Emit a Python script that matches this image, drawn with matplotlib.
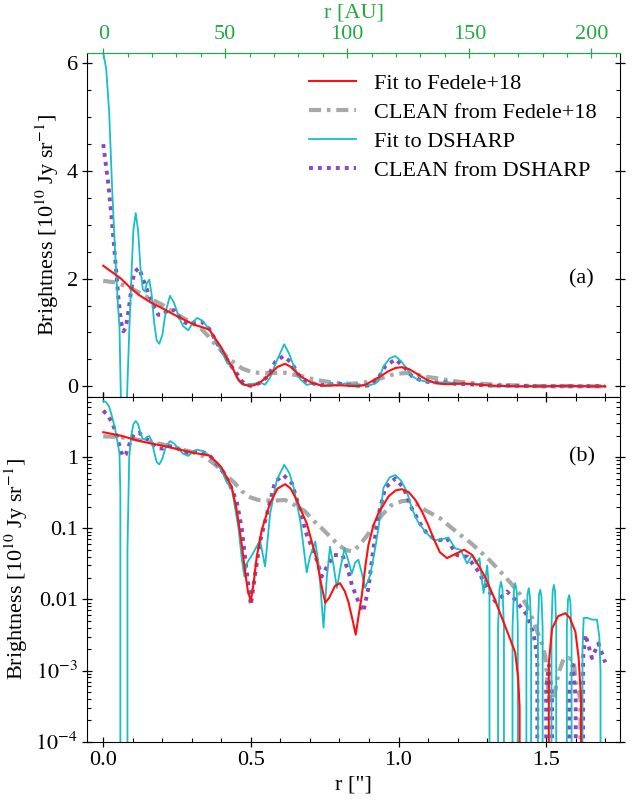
import numpy as np
import matplotlib
matplotlib.use("Agg")
import matplotlib.pyplot as plt
from matplotlib.ticker import MultipleLocator, FixedLocator, FuncFormatter, LogLocator

plt.rcParams['font.family'] = ['Liberation Serif', 'DejaVu Serif']
plt.rcParams['mathtext.fontset'] = 'stix'
plt.rcParams['font.size'] = 16

# distance used for the AU axis (pc)
dist_pc = 121.0

# --- Fit to Fedele+18 ---
r_fit_f18 = [0.0, 0.03, 0.06, 0.09, 0.12, 0.16, 0.2, 0.24, 0.28, 0.31, 0.34, 0.36,
             0.38, 0.40, 0.42, 0.435, 0.45, 0.458, 0.47, 0.48, 0.49, 0.50, 0.51, 0.52,
             0.537, 0.565, 0.59, 0.616, 0.635, 0.655, 0.672, 0.689, 0.706, 0.723, 0.74,
             0.752, 0.765, 0.785, 0.802, 0.818, 0.83, 0.845, 0.855, 0.865, 0.876, 0.888,
             0.898, 0.915, 0.932, 0.966, 0.99, 1.011, 1.035, 1.057, 1.08, 1.10, 1.12,
             1.14, 1.164, 1.19, 1.222, 1.25, 1.271, 1.295, 1.322, 1.35, 1.379, 1.395,
             1.405, 1.41, 1.414, 1.506, 1.509, 1.52, 1.54, 1.565, 1.58, 1.599, 1.61,
             1.618, 1.622, 1.70]
b_fit_f18 = [2.24, 2.12, 2.0, 1.84, 1.70, 1.56, 1.45, 1.33, 1.22, 1.14, 1.09, 1.05,
             0.88, 0.72, 0.50, 0.38, 0.20, 0.124, 0.055, 0.025, 0.013, 0.0095, 0.018, 0.04,
             0.095, 0.225, 0.36, 0.417, 0.36, 0.25, 0.17, 0.118, 0.065, 0.036, 0.015,
             0.009, 0.0105, 0.0155, 0.0169, 0.013, 0.0093, 0.005, 0.0032, 0.006, 0.0116, 0.03,
             0.058, 0.11, 0.163, 0.28, 0.34, 0.355, 0.32, 0.25, 0.17, 0.112, 0.07,
             0.046, 0.038, 0.043, 0.05, 0.042, 0.03, 0.02, 0.011, 0.0055, 0.0027, 0.0018,
             0.0008, 0.0003, -0.001, -0.001, 0.0013, 0.0039, 0.0058, 0.0064, 0.0055, 0.0035, 0.0015,
             0.0004, -0.001, -0.001]

# --- CLEAN from Fedele+18 ---
r_clean_f18 = [0.0, 0.04, 0.085, 0.141, 0.198, 0.254, 0.30, 0.333, 0.356, 0.379, 0.40,
               0.424, 0.446, 0.47, 0.50, 0.525, 0.55, 0.58, 0.616, 0.65, 0.684, 0.71, 0.74,
               0.77, 0.797, 0.82, 0.842, 0.865, 0.887, 0.915, 0.944, 0.975, 1.011, 1.03,
               1.06, 1.09, 1.141, 1.175, 1.209, 1.245, 1.277, 1.31, 1.345, 1.38, 1.413,
               1.44, 1.469, 1.485, 1.497, 1.503, 1.51, 1.525, 1.542, 1.56, 1.575, 1.593,
               1.60, 1.616, 1.622, 1.70]
b_clean_f18 = [1.96, 1.93, 1.85, 1.68, 1.52, 1.32, 1.18, 1.06, 0.93, 0.78, 0.66,
               0.52, 0.43, 0.33, 0.27, 0.25, 0.245, 0.245, 0.25, 0.21, 0.172, 0.13, 0.10,
               0.075, 0.058, 0.05, 0.047, 0.056, 0.073, 0.105, 0.154, 0.21, 0.24, 0.245,
               0.22, 0.18, 0.138, 0.105, 0.081, 0.062, 0.047, 0.035, 0.0246, 0.017, 0.0116,
               0.0075, 0.0036, 0.0024, 0.0016, 0.0008, 0.0004, 0.0004, 0.00093, 0.0015, 0.0015, 0.0014,
               0.0007, 0.0004, -0.001, -0.001]

# --- Fit to DSHARP ---
r_fit_ds = [0.0, 0.01, 0.02, 0.03, 0.04, 0.05, 0.055, 0.058, 0.06, 0.07, 0.08, 0.082,
            0.088, 0.095, 0.102, 0.110, 0.118, 0.126, 0.134, 0.141, 0.148, 0.156, 0.164,
            0.172, 0.181, 0.19, 0.2, 0.212, 0.226, 0.24, 0.255, 0.27, 0.288, 0.305, 0.318,
            0.335, 0.356, 0.38, 0.40, 0.42, 0.435, 0.458, 0.47, 0.478, 0.486, 0.508, 0.531,
            0.548, 0.565, 0.588, 0.613, 0.63, 0.644, 0.667, 0.689, 0.700, 0.718, 0.73,
            0.746, 0.757, 0.768, 0.78, 0.791, 0.805, 0.817, 0.83, 0.842, 0.853, 0.864,
            0.875, 0.887, 0.904, 0.92, 0.932, 0.949, 0.97, 0.989, 1.008, 1.028, 1.045,
            1.065, 1.09, 1.119, 1.145, 1.169, 1.192, 1.21, 1.232, 1.249, 1.262, 1.274,
            1.283, 1.288, 1.30, 1.308, 1.312, 1.334, 1.337, 1.342, 1.347, 1.352, 1.357,
            1.36, 1.383, 1.386, 1.391, 1.395, 1.40, 1.404, 1.407, 1.43, 1.433, 1.437,
            1.441, 1.445, 1.449, 1.452, 1.47, 1.472, 1.476, 1.48, 1.484, 1.488, 1.49,
            1.515, 1.518, 1.522, 1.526, 1.53, 1.534, 1.537, 1.567, 1.570, 1.574, 1.578,
            1.582, 1.586, 1.589, 1.62, 1.623, 1.627, 1.64, 1.655, 1.672, 1.68, 1.684,
            1.687, 1.70]
b_fit_ds = [6.2, 5.9, 5.1, 3.7, 2.5, 1.5, 1.1, 0.3, -0.3, -0.6, -0.3, 0.05,
            1.0, 2.0, 2.9, 3.22, 2.9, 2.2, 1.8, 1.76, 1.92, 1.98, 1.7,
            1.2, 0.85, 0.79, 0.95, 1.4, 1.68, 1.55, 1.3, 1.12, 1.04, 1.2, 1.27,
            1.22, 1.08, 0.85, 0.66, 0.43, 0.37, 0.10, 0.035, 0.021, 0.032, 0.045, 0.068,
            0.029, 0.16, 0.48, 0.78, 0.6, 0.39, 0.13, 0.024, 0.04, 0.065, 0.03,
            0.0040, 0.02, 0.055, 0.03, 0.0145, 0.03, 0.052, 0.035, 0.023, 0.033, 0.036,
            0.024, 0.0145, 0.022, 0.05, 0.1, 0.37, 0.52, 0.56, 0.47, 0.33, 0.19,
            0.125, 0.09, 0.068, 0.07, 0.074, 0.052, 0.05, 0.032, 0.042, 0.032, 0.038,
            0.018, 0.0123, 0.030, 0.012, -0.005, -0.005, 0.004, 0.014, 0.0177, 0.014, 0.004,
            -0.005, -0.005, 0.004, 0.014, 0.0169, 0.013, 0.004, -0.005, -0.005, 0.004, 0.012,
            0.0144, 0.011, 0.004, -0.005, -0.005, 0.004, 0.012, 0.0136, 0.011, 0.004, -0.005,
            -0.005, 0.004, 0.013, 0.016, 0.013, 0.004, -0.005, -0.005, 0.004, 0.010, 0.0115,
            0.009, 0.003, -0.005, -0.005, 0.002, 0.0055, 0.0055, 0.0052, 0.0052, 0.003, 0.001,
            -0.005, -0.005]

# --- CLEAN from DSHARP ---
r_clean_ds = [0.0, 0.017, 0.028, 0.04, 0.051, 0.06, 0.068, 0.076, 0.085, 0.095, 0.105,
              0.121, 0.141, 0.164, 0.186, 0.2, 0.22, 0.243, 0.265, 0.288, 0.31, 0.333,
              0.36, 0.385, 0.413, 0.43, 0.452, 0.469, 0.486, 0.50, 0.514, 0.531, 0.559,
              0.582, 0.61, 0.639, 0.661, 0.689, 0.718, 0.74, 0.76, 0.78, 0.81, 0.83,
              0.842, 0.864, 0.881, 0.898, 0.915, 0.932, 0.955, 0.989, 1.017, 1.045, 1.074,
              1.10, 1.119, 1.14, 1.164, 1.18, 1.198, 1.215, 1.232, 1.25, 1.271, 1.30,
              1.328, 1.35, 1.367, 1.385, 1.40, 1.435, 1.458, 1.47, 1.475, 1.495, 1.50,
              1.51, 1.52, 1.525, 1.57, 1.578, 1.59, 1.60, 1.605, 1.62, 1.625, 1.633,
              1.655, 1.677, 1.70]
b_clean_ds = [4.5, 3.77, 3.15, 2.40, 1.66, 1.2, 1.02, 1.08, 1.38, 1.8, 2.12,
              2.2, 1.9, 1.56, 1.33, 1.32, 1.42, 1.41, 1.22, 1.15, 1.19, 1.2,
              1.06, 0.8, 0.56, 0.4, 0.238, 0.10, 0.0246, 0.0083, 0.022, 0.065, 0.19,
              0.45, 0.56, 0.43, 0.213, 0.081, 0.042, 0.021, 0.03, 0.042, 0.042, 0.025,
              0.016, 0.0093, 0.0067, 0.0144, 0.052, 0.154, 0.37, 0.50, 0.37, 0.19, 0.115,
              0.08, 0.073, 0.068, 0.073, 0.055, 0.042, 0.04, 0.040, 0.032, 0.0246, 0.0144,
              0.0093, 0.011, 0.0129, 0.011, 0.0093, 0.006, 0.0032, 0.0015, -0.001, -0.001, 0.0006,
              0.0012, 0.0004, -0.001, -0.001, 0.0005, 0.0012, 0.0004, -0.001, -0.001, 0.0015, 0.0032,
              0.0015, 0.0024, 0.0013]

au_ticks = [0, 50, 100, 150, 200]

series = [
    (r_fit_f18, b_fit_f18, dict(color='#ff1010', lw=1.5, ls='-'), 'Fit to Fedele+18'),
    (r_clean_f18, b_clean_f18, dict(color='#a8a8a8', lw=3.0, ls=(0, (2.9, 1.4, 0.85, 1.4))), 'CLEAN from Fedele+18'),
    (r_fit_ds, b_fit_ds, dict(color='#17bfc7', lw=1.3, ls='-'), 'Fit to DSHARP'),
    (r_clean_ds, b_clean_ds, dict(color='#8c46be', lw=2.8, ls=(0, (1, 1.3))), 'CLEAN from DSHARP'),
]
draw_order = [1, 3, 2, 0]

green = '#22aa44'
ylabel = r'Brightness [10$^{10}$ Jy sr$^{-1}$]'

fig = plt.figure(figsize=(6.34, 8), dpi=100)
ax1 = fig.add_axes([87 / 634, 1 - 397 / 800, 533 / 634, 344.3 / 800])
ax2 = fig.add_axes([87 / 634, 1 - 741.7 / 800, 533 / 634, 344.7 / 800], sharex=ax1)

ax2.set_yscale('log', nonpositive='clip')

for ax in (ax1, ax2):
    for i in draw_order:
        r, b, st, lab = series[i]
        ax.plot(r, b, label=lab, **st)

ax1.set_xlim(-0.055, 1.75)
ax1.set_ylim(-0.2, 6.2)
ax2.set_ylim(1e-4, 7)

# ticks
for ax in (ax1, ax2):
    ax.xaxis.set_major_locator(MultipleLocator(0.5))
    ax.xaxis.set_minor_locator(MultipleLocator(0.1))
    ax.tick_params(which='major', direction='inout', length=7, width=0.9, right=True, pad=3)
    ax.tick_params(which='minor', direction='in', length=3, width=0.8, right=True)

ax1.yaxis.set_major_locator(MultipleLocator(2))
ax1.yaxis.set_minor_locator(MultipleLocator(0.5))
ax1.tick_params(axis='x', which='both', labelbottom=False, top=False)
ax1.spines['top'].set_color(green)

ax2.tick_params(axis='x', which='both', top=True)
ax2.yaxis.set_major_locator(LogLocator(base=10, numticks=10))
ax2.yaxis.set_minor_locator(LogLocator(base=10, subs=np.arange(2, 10), numticks=20))


def log_label(v, pos):
    if v >= 1:
        return '1'
    if v >= 0.01:
        return '%g' % v
    return r'$10^{%d}$' % int(round(np.log10(v)))


ax2.yaxis.set_major_formatter(FuncFormatter(log_label))

ax1.set_ylabel(ylabel)
ax2.set_ylabel(ylabel)
ax2.set_xlabel('r ["]')

ax1.text(1.62, 2.0, '(a)', ha='center', va='center')
ax2.text(1.62, 1.0, '(b)', ha='center', va='center')

# AU axis on top
secax = ax1.secondary_xaxis('top', functions=(lambda x: x * dist_pc, lambda a: a / dist_pc))
secax.xaxis.set_major_locator(FixedLocator(au_ticks))
secax.xaxis.set_minor_locator(FixedLocator(np.arange(0, 211, 10)))
secax.tick_params(which='major', direction='inout', length=7, width=0.9, colors=green, pad=3)
secax.tick_params(which='minor', direction='in', length=3, width=0.8, colors=green)
secax.spines['top'].set_color(green)
secax.set_xlabel('r [AU]', color=green, labelpad=5)

handles, labels = ax1.get_legend_handles_labels()
order = [labels.index(s[3]) for s in series]
ax1.legend([handles[i] for i in order], [labels[i] for i in order], loc='upper right',
           frameon=False, handlelength=2.1, handletextpad=0.8, labelspacing=0.38,
           borderaxespad=0.3, bbox_to_anchor=(0.985, 0.985))

fig.savefig('out.png', dpi=100)
